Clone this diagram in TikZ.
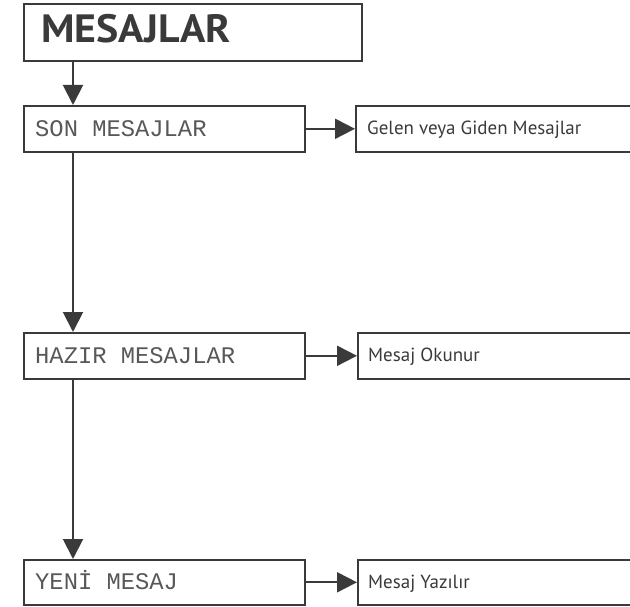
\documentclass[tikz,border=0pt]{standalone}
\usepackage{fontspec}
\setmainfont{PT Sans}
\newfontfamily\dotfont{Liberation Mono}
\usetikzlibrary{arrows.meta}
\definecolor{ln}{HTML}{3A3A3A}
\definecolor{dottxt}{HTML}{585858}
\begin{document}
\begin{tikzpicture}[x=1pt,y=-1pt,
  box/.style={draw=ln,line width=1.6pt,anchor=north west,inner sep=0pt},
  conn/.style={draw=ln,line width=2pt,-{Triangle[length=20pt,width=20pt]}},
  dottext/.style={anchor=base west,inner sep=0pt,text=dottxt,font=\dotfont\fontsize{23.8}{24}\selectfont},
  plaintext/.style={anchor=base west,inner sep=0pt,text=ln,font=\fontsize{19}{20}\selectfont},
  titletext/.style={anchor=base west,inner sep=0pt,text=ln,font=\bfseries\fontsize{39.5}{40}\selectfont}]
\useasboundingbox (0,0) rectangle (630,607);
\clip (0,0) rectangle (630,607);
\node[box,minimum width=338pt,minimum height=57pt] (title) at (23,3) {};
\node[box,minimum width=281pt,minimum height=46pt] (son) at (23,105) {};
\node[box,minimum width=281pt,minimum height=46pt] (hazir) at (23,332) {};
\node[box,minimum width=281pt,minimum height=45pt] (yeni) at (23,559) {};
\node[box,minimum width=300pt,minimum height=46pt] (gelen) at (355,105) {};
\node[box,minimum width=300pt,minimum height=46pt] (okunur) at (357,332) {};
\node[box,minimum width=300pt,minimum height=45pt] (yazilir) at (357,559) {};
\node[titletext] (ttitle) at (41,43) {\scalebox{1.06}[1]{MESAJLAR}};
\node[dottext] (tson) at (35,137) {SON MESAJLAR};
\node[dottext] (thazir) at (35,363) {HAZIR MESAJLAR};
\node[dottext] (tyeni) at (35,589) {YENİ MESAJ};
\node[plaintext] (tgelen) at (367,134.5) {Gelen veya Giden Mesajlar};
\node[plaintext] (tokunur) at (368,361.5) {Mesaj Okunur};
\node[plaintext] (tyazilir) at (368,588) {Mesaj Yazılır};
\draw[conn] ([xshift=50pt]title.south west) -- ([xshift=50pt]son.north west);
\draw[conn] ([xshift=50pt]son.south west) -- ([xshift=50pt]hazir.north west);
\draw[conn] ([xshift=50pt]hazir.south west) -- ([xshift=50pt]yeni.north west);
\draw[conn] (son.east) -- (gelen.west);
\draw[conn] (hazir.east) -- (okunur.west);
\draw[conn] (yeni.east) -- (yazilir.west);
\end{tikzpicture}
\end{document}
